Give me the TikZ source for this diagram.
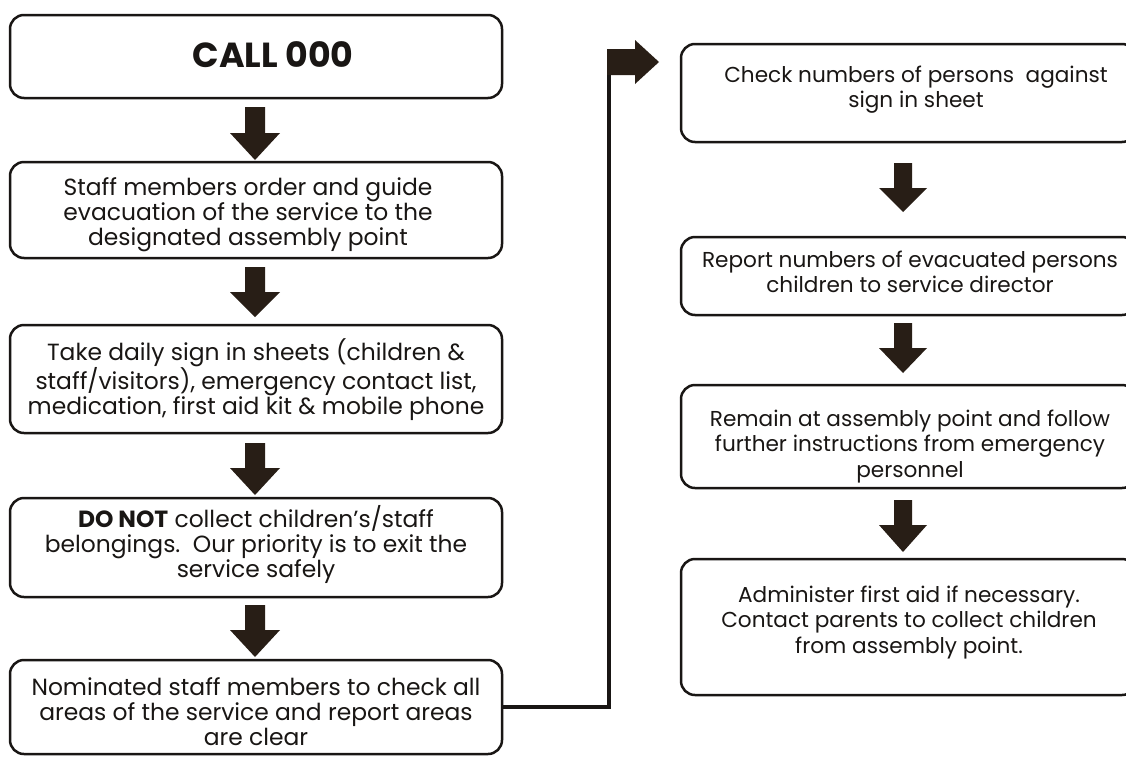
\documentclass[tikz,border=0pt]{standalone}
\usepackage{fontspec}
\setmainfont{Poppins}
\definecolor{arrowc}{RGB}{40,30,22}
\definecolor{linec}{RGB}{25,22,20}
\newcommand{\mylines}[1]{\begin{tabular}[t]{@{}c@{}}#1\end{tabular}}
\newcommand{\blockdown}[6]{\fill[arrowc] (#1-#2,#3) -- (#1+#2,#3) -- (#1+#2,#4) -- (#1+#6,#4) -- (#1,#5) -- (#1-#6,#4) -- (#1-#2,#4) -- cycle;}
\begin{document}
\begin{tikzpicture}[x=1pt,y=-1pt,
  box/.style={draw=linec, line width=2.5pt, rounded corners=14pt, inner sep=0pt},
  lbox/.style={box, minimum width=492pt},
  rbox/.style={box, minimum width=455pt},
  ltext/.style={anchor=base, inner sep=0pt, font=\fontsize{23.4}{25}\selectfont, text=linec},
  rtext/.style={anchor=base, inner sep=0pt, font=\fontsize{21.6}{25.5}\selectfont, text=linec},
  conn/.style={draw=linec, line width=4pt, line join=miter}]
\useasboundingbox (0,0) rectangle (1126,758);
\fill[white] (0,0) rectangle (1126,758);
% left column boxes
\node[lbox, minimum height=83pt] (b1) at (256,56.5) {};
\node[lbox, minimum height=96pt] (b2) at (256,210) {};
\node[lbox, minimum height=108pt] (b3) at (256,379) {};
\node[lbox, minimum height=99pt] (b4) at (256,547.5) {};
\node[lbox, minimum height=94pt] (b5) at (256,707) {};
% right column boxes
\node[rbox, minimum height=98pt] (r1) at (908.5,93) {};
\node[rbox, minimum height=78pt] (r2) at (908.5,276) {};
\node[rbox, minimum height=103pt] (r3) at (908.5,436.5) {};
\node[rbox, minimum height=136pt] (r4) at (908.5,627) {};
% texts
\node[anchor=base, inner sep=0pt, font=\bfseries\fontsize{34.8}{38}\selectfont, text=linec] (t1) at (273,67) {CALL 000};
\node[ltext] (t2) at (248,195) {\mylines{Staff members order and guide\\evacuation of the service to the\\designated assembly point}};
\node[ltext] (t3) at (256,360) {\mylines{Take daily sign in sheets (children \&\\staff/visitors), emergency contact list,\\medication, first aid kit \& mobile phone}};
\node[ltext] (t4) at (256,527) {\mylines{\textbf{DO NOT} collect children’s/staff\\belongings.\ \ Our priority is to exit the\\service safely}};
\node[ltext] (t5) at (256,695) {\mylines{Nominated staff members to check all\\areas of the service and report areas\\are clear}};
\node[rtext] (u1) at (916,82) {\mylines{Check numbers of persons\ \ against\\sign in sheet}};
\node[rtext] (u2) at (910,267) {\mylines{Report numbers of evacuated persons\\children to service director}};
\node[rtext] (u3) at (910,426) {\mylines{Remain at assembly point and follow\\further instructions from emergency\\personnel}};
\node[rtext] (u4) at (909,602) {\mylines{Administer first aid if necessary.\\Contact parents to collect children\\from assembly point.}};
% block arrows, left column
\blockdown{255}{10}{107}{133}{160}{25}
\blockdown{255}{10}{267}{292}{317}{25}
\blockdown{255}{10}{443}{468}{495}{25}
\blockdown{255}{10}{605}{630}{657}{25}
% block arrows, right column
\blockdown{903}{9}{163}{188}{212}{24}
\blockdown{903}{9}{323}{348}{373}{24}
\blockdown{903}{9}{500}{525}{552}{24}
% connector from last left box to first right box
\coordinate (c1) at (609,62);
\draw[conn] (b5.east) -| (c1);
\fill[arrowc] (607,49) -- (635,49) -- (635,40) -- (659,62) -- (635,84) -- (635,75) -- (607,75) -- cycle;
\end{tikzpicture}
\end{document}
